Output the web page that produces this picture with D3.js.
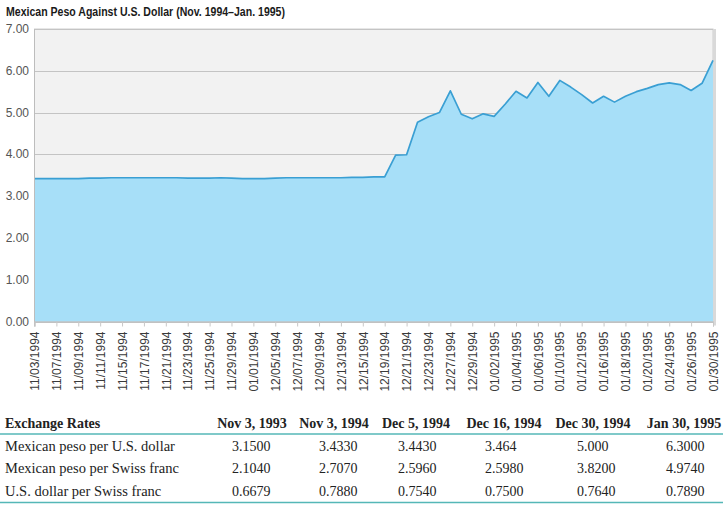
<!DOCTYPE html>
<html>
<head>
<meta charset="utf-8">
<script src="https://cdn.jsdelivr.net/npm/d3@7"></script>
<style>
  html, body { margin: 0; padding: 0; background: #fff; }
  svg { display: block; }
</style>
</head>
<body>
<svg id="chart" width="725" height="510"></svg>
<script>
// ---- Data ----
const title = "Mexican Peso Against U.S. Dollar (Nov. 1994\u2013Jan. 1995)";

const dates = [
  "11/03/1994","11/04/1994","11/07/1994","11/08/1994","11/09/1994","11/10/1994","11/11/1994","11/14/1994",
  "11/15/1994","11/16/1994","11/17/1994","11/18/1994","11/21/1994","11/22/1994","11/23/1994","11/24/1994",
  "11/25/1994","11/28/1994","11/29/1994","11/30/1994","01/01/1994","12/02/1994","12/05/1994","12/06/1994",
  "12/07/1994","12/08/1994","12/09/1994","12/12/1994","12/13/1994","12/14/1994","12/15/1994","12/16/1994",
  "12/19/1994","12/20/1994","12/21/1994","12/22/1994","12/23/1994","12/26/1994","12/27/1994","12/28/1994",
  "12/29/1994","12/30/1994","01/02/1995","01/03/1995","01/04/1995","01/05/1995","01/06/1995","01/09/1995",
  "01/10/1995","01/11/1995","01/12/1995","01/13/1995","01/16/1995","01/17/1995","01/18/1995","01/19/1995",
  "01/20/1995","01/23/1995","01/24/1995","01/25/1995","01/26/1995","01/27/1995","01/30/1995"
];

const pesoPerDollar = [
  3.42, 3.42, 3.42, 3.42, 3.42, 3.43, 3.43, 3.44,
  3.44, 3.44, 3.44, 3.44, 3.44, 3.44, 3.43, 3.43,
  3.43, 3.44, 3.43, 3.42, 3.42, 3.42, 3.43, 3.44,
  3.44, 3.44, 3.44, 3.44, 3.44, 3.45, 3.45, 3.46,
  3.46, 3.98, 3.99, 4.77, 4.90, 5.00, 5.52, 4.96,
  4.85, 4.97, 4.91, 5.20, 5.51, 5.35, 5.72, 5.39,
  5.77, 5.61, 5.43, 5.23, 5.39, 5.25, 5.39, 5.50,
  5.58, 5.67, 5.71, 5.67, 5.53, 5.70, 6.25
];

// labelled ticks: every other trading day
const tickDates = dates.filter((d, i) => i % 2 === 0);
const yTicks = [0, 1, 2, 3, 4, 5, 6, 7];

// ---- Table data ----
const tableTitle = "Exchange Rates";
const tableColumns = ["Nov 3, 1993", "Nov 3, 1994", "Dec 5, 1994", "Dec 16, 1994", "Dec 30, 1994", "Jan 30, 1995"];
const tableRows = ["Mexican peso per U.S. dollar", "Mexican peso per Swiss franc", "U.S. dollar per Swiss franc"];
const rowPesoDollar = ["3.1500", "3.4330", "3.4430", "3.464", "5.000", "6.3000"];
const rowPesoFranc  = ["2.1040", "2.7070", "2.5960", "2.5980", "3.8200", "4.9740"];
const rowDollarFranc = ["0.6679", "0.7880", "0.7540", "0.7500", "0.7640", "0.7890"];

// ---- Layout ----
const svg = d3.select("#chart");
const plot = { left: 34.5, right: 713, top: 29, bottom: 321.5 };

const x = d3.scalePoint().domain(dates).range([plot.left, plot.right]).padding(0);
const y = d3.scaleLinear().domain([0, 7]).range([plot.bottom, plot.top]);

// Title
svg.append("text")
  .attr("x", 6).attr("y", 16)
  .attr("font-family", "'Liberation Sans Narrow', 'Arial Narrow', sans-serif")
  .attr("font-weight", "bold")
  .attr("font-size", 12.5)
  .attr("fill", "#1a1a1a")
  .attr("textLength", 279)
  .attr("lengthAdjust", "spacingAndGlyphs")
  .text(title);

// Plot background
svg.append("rect")
  .attr("x", plot.left).attr("y", plot.top)
  .attr("width", plot.right - plot.left).attr("height", plot.bottom - plot.top)
  .attr("fill", "#f2f2f2")
  .attr("stroke", "#cfcfcf").attr("stroke-width", 1);

// right shadow edge
svg.append("rect")
  .attr("x", plot.right).attr("y", plot.top)
  .attr("width", 3).attr("height", plot.bottom - plot.top + 4)
  .attr("fill", "#d9d9d9");

// gridlines
svg.append("g").selectAll("line")
  .data(yTicks)
  .join("line")
  .attr("x1", plot.left).attr("x2", plot.right)
  .attr("y1", d => Math.round(y(d)) + 0.5).attr("y2", d => Math.round(y(d)) + 0.5)
  .attr("stroke", "#c4c4c4").attr("stroke-width", 1);

// area + line
const area = d3.area()
  .x((d, i) => x(dates[i]))
  .y0(y(0))
  .y1(d => y(d));
const line = d3.line()
  .x((d, i) => x(dates[i]))
  .y(d => y(d));

svg.append("path")
  .datum(pesoPerDollar)
  .attr("d", area)
  .attr("fill", "#a7dff8");

svg.append("path")
  .datum(pesoPerDollar)
  .attr("d", line)
  .attr("fill", "none")
  .attr("stroke", "#3a9fd3")
  .attr("stroke-width", 1.7)
  .attr("stroke-linejoin", "round");

// left axis line
svg.append("line")
  .attr("x1", plot.left).attr("x2", plot.left)
  .attr("y1", plot.top).attr("y2", plot.bottom + 5)
  .attr("stroke", "#bdbdbd");

// Y axis labels
svg.append("g").selectAll("text")
  .data(yTicks)
  .join("text")
  .attr("x", 29)
  .attr("y", d => y(d) + 4)
  .attr("text-anchor", "end")
  .attr("font-family", "'Liberation Sans', Arial, sans-serif")
  .attr("font-size", 12)
  .attr("fill", "#555")
  .text(d => d3.format(".2f")(d));

// X axis
const xAxis = d3.axisBottom(x)
  .tickValues(tickDates)
  .tickSize(5)
  .tickPadding(6);

const gx = svg.append("g")
  .attr("transform", `translate(0,${plot.bottom})`)
  .call(xAxis);
gx.select(".domain").attr("stroke", "#bdbdbd");
gx.selectAll(".tick line").attr("stroke", "#c8c8c8");
gx.selectAll(".tick text")
  .attr("font-family", "'Liberation Sans', Arial, sans-serif")
  .attr("font-size", 12)
  .attr("fill", "#3a3a3a")
  .attr("transform", "rotate(-90)")
  .attr("text-anchor", "end")
  .attr("x", -10)
  .attr("y", 0)
  .attr("dy", "0.35em");

// ---- Table ----
const tbl = svg.append("g").attr("font-family", "'Liberation Serif', 'Times New Roman', serif");
const colCenters = [252, 334, 416, 504, 593, 684];
const colStarts = [232, 319, 398, 485, 577, 666];
const headerY = 428;
const rowYs = [451, 473, 496];

tbl.append("text")
  .attr("x", 5).attr("y", headerY)
  .attr("font-size", 14).attr("font-weight", "bold").attr("fill", "#222")
  .text(tableTitle);

tbl.selectAll("text.colhead")
  .data(tableColumns)
  .join("text")
  .attr("class", "colhead")
  .attr("x", (d, i) => colCenters[i])
  .attr("y", headerY)
  .attr("text-anchor", "middle")
  .attr("font-size", 14).attr("font-weight", "bold").attr("fill", "#222")
  .text(d => d);

tbl.append("line")
  .attr("x1", 0).attr("x2", 723).attr("y1", 434).attr("y2", 434)
  .attr("stroke", "#55b7b7").attr("stroke-width", 1.5);
tbl.append("line")
  .attr("x1", 0).attr("x2", 723).attr("y1", 502.5).attr("y2", 502.5)
  .attr("stroke", "#55b7b7").attr("stroke-width", 1.5);

const rowsData = [rowPesoDollar, rowPesoFranc, rowDollarFranc];
rowsData.forEach((vals, r) => {
  tbl.append("text")
    .attr("x", 5).attr("y", rowYs[r])
    .attr("font-size", 14.5).attr("fill", "#222")
    .text(tableRows[r]);
  tbl.selectAll(null)
    .data(vals)
    .join("text")
    .attr("x", (d, i) => colStarts[i])
    .attr("y", rowYs[r])
    .attr("font-size", 14).attr("fill", "#222")
    .text(d => d);
});
</script>
</body>
</html>
